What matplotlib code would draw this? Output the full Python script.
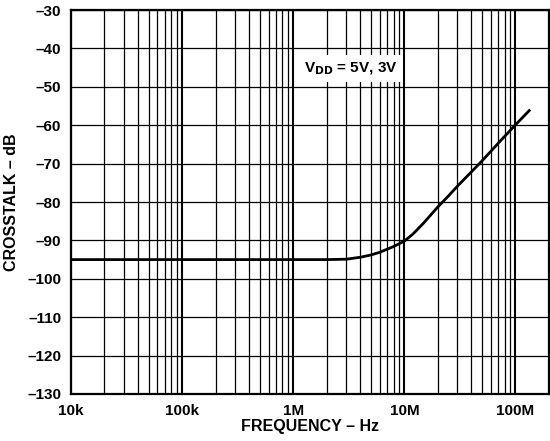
import matplotlib
matplotlib.use('Agg')
import numpy as np
from matplotlib import pyplot as plt
from matplotlib.ticker import FixedLocator, LogLocator, NullFormatter

plt.rcParams['font.family'] = ['Liberation Sans', 'DejaVu Sans']
plt.rcParams['font.weight'] = 'bold'

freq = [1e4, 1e5, 1e6, 2e6, 3e6, 4e6, 5e6, 6e6, 8e6, 10e6, 12e6, 15e6, 20e6,
        25e6, 30e6, 40e6, 50e6, 70e6, 100e6, 133e6]
crosstalk = [-95, -95, -95, -95, -94.9, -94.4, -93.8, -93.1, -91.6, -90.2,
             -88.3, -85.4, -81.3, -78.4, -75.9, -72.2, -69.3, -64.7, -59.9, -56.2]

x_ticks = [1e4, 1e5, 1e6, 1e7, 1e8]
x_labels = ['10k', '100k', '1M', '10M', '100M']
y_ticks = list(range(-130, -29, 10))

fig = plt.figure(figsize=(5.5, 4.41), dpi=100)
ax = fig.add_axes([0.129, 0.1066, 0.869, 0.8707])

ax.set_xscale('log')
ax.set_xlim(1e4, 2e8)
ax.set_ylim(-130, -30)

ax.xaxis.set_major_locator(FixedLocator(x_ticks))
ax.set_xticklabels(x_labels)
ax.xaxis.set_minor_locator(LogLocator(base=10, subs=range(2, 10)))
ax.xaxis.set_minor_formatter(NullFormatter())
ax.set_yticks(y_ticks)
ax.set_yticklabels([f'\u2013{abs(v)}' for v in y_ticks])

ax.grid(which='major', axis='x', color='black', lw=1.5)
ax.grid(which='minor', axis='x', color='black', lw=0.9)
ax.grid(which='major', axis='y', color='black', lw=0.9)
ax.tick_params(which='both', length=0, labelsize=11, pad=7)
for s in ax.spines.values():
    s.set_linewidth(1.6)

ax.plot(freq, crosstalk, color='black', lw=2, zorder=3)

ax.text(3.3e6, -45.3, r'V$_{\mathbf{DD}}$ = 5V, 3V', ha='center', va='center',
        fontsize=11, fontweight='bold', zorder=4,
        bbox=dict(facecolor='white', edgecolor='none', pad=4))

ax.set_xlabel('FREQUENCY \u2013 Hz', fontsize=11.5, fontweight='bold', labelpad=1)
ax.set_ylabel('CROSSTALK \u2013 dB', fontsize=11.5, fontweight='bold', labelpad=6)

fig.savefig('out.png', dpi=100)
